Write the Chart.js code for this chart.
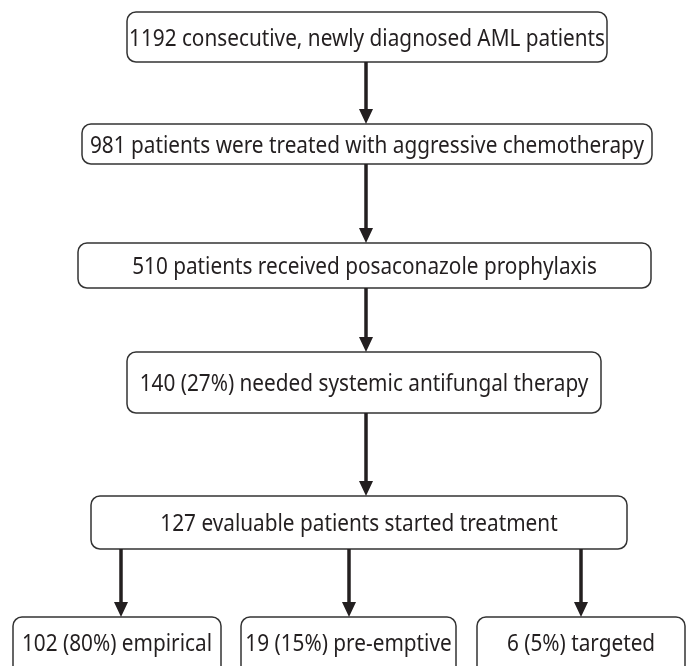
<!DOCTYPE html>
<html>
<head>
<meta charset="utf-8">
<script src="https://cdn.jsdelivr.net/npm/chart.js@4/dist/chart.umd.min.js"></script>
<style>
  html, body { margin: 0; padding: 0; background: #fff; }
  #wrap { width: 687px; height: 666px; }
</style>
</head>
<body>
<div id="wrap"><canvas id="flow" width="687" height="666"></canvas></div>
<script>
// flow steps (text of each box)
const stepLabels = [
    '1192 consecutive, newly diagnosed AML patients',
    '981 patients were treated with aggressive chemotherapy',
    '510 patients received posaconazole prophylaxis',
    '140 (27%) needed systemic antifungal therapy',
    '127 evaluable patients started treatment'
];
const branchLabels = ['102 (80%) empirical', '19 (15%) pre-emptive', '6 (5%) targeted'];

// layout in scale units (x: 0..687, y: 0..666 from top)
const stepLeft = [127, 82, 78, 127, 91];
const stepRight = [607, 652, 651, 601, 627];
const stepTop = [12, 124, 243, 352, 496];
const stepBottom = [62, 164, 288, 413, 549];
const branchLeft = [13, 241, 477];
const branchRight = [221, 456, 685];
const branchTop = 617;
const branchBottom = 700;
const mainArrowX = 366;
const branchArrowX = [121, 349, 581];

const ink = '#231f20';
const fontFamily = '"Noto Sans", "DejaVu Sans", sans-serif';

function roundBox(ctx, x0, y0, x1, y1, r) {
    ctx.beginPath();
    ctx.roundRect(x0, y0, x1 - x0, y1 - y0, r);
    ctx.stroke();
}

function arrow(ctx, x, y0, y1) {
    const head = 15;
    ctx.beginPath();
    ctx.moveTo(x, y0);
    ctx.lineTo(x, y1 - head + 1);
    ctx.stroke();
    ctx.beginPath();
    ctx.moveTo(x - 7, y1 - head);
    ctx.lineTo(x + 7, y1 - head);
    ctx.lineTo(x, y1);
    ctx.closePath();
    ctx.fill();
}

// narrow text the way the original typeface is condensed
function label(ctx, text, x, y, squeeze) {
    ctx.save();
    ctx.translate(x, y);
    ctx.scale(squeeze, 1);
    ctx.fillText(text, 0, 0);
    ctx.restore();
}

const flowPlugin = {
    id: 'flow',
    afterDraw(chart) {
        const ctx = chart.ctx;
        const xs = chart.scales.x, ys = chart.scales.y;
        const px = v => xs.getPixelForValue(v);
        const py = v => ys.getPixelForValue(v);

        ctx.save();
        ctx.font = '24px ' + fontFamily;
        const squeeze = 476 / ctx.measureText(stepLabels[0]).width;
        ctx.textAlign = 'center';
        ctx.textBaseline = 'middle';
        ctx.lineWidth = 1.5;
        ctx.strokeStyle = '#333';
        ctx.fillStyle = ink;

        stepLabels.forEach((text, i) => {
            roundBox(ctx, px(stepLeft[i]), py(stepTop[i]), px(stepRight[i]), py(stepBottom[i]), 9);
            label(ctx, text, px((stepLeft[i] + stepRight[i]) / 2), py((stepTop[i] + stepBottom[i]) / 2) + 2, squeeze);
        });
        branchLabels.forEach((text, i) => {
            roundBox(ctx, px(branchLeft[i]), py(branchTop), px(branchRight[i]), py(branchBottom), 9);
            label(ctx, text, px((branchLeft[i] + branchRight[i]) / 2), py(644), squeeze);
        });

        ctx.lineWidth = 3.5;
        ctx.strokeStyle = ink;
        for (let i = 0; i < stepLabels.length - 1; i++) {
            arrow(ctx, px(mainArrowX), py(stepBottom[i]), py(stepTop[i + 1]));
        }
        branchArrowX.forEach(x => arrow(ctx, px(x), py(stepBottom[4]), py(branchTop)));
        ctx.restore();
    }
};

new Chart(document.getElementById('flow'), {
    type: 'scatter',
    data: { datasets: [{ data: [] }] },
    options: {
        responsive: false,
        animation: false,
        layout: { padding: 0 },
        plugins: { legend: { display: false }, tooltip: { enabled: false } },
        scales: {
            x: { type: 'linear', min: 0, max: 687, display: false },
            y: { type: 'linear', min: 0, max: 666, reverse: true, display: false }
        }
    },
    plugins: [flowPlugin]
});
</script>
</body>
</html>
